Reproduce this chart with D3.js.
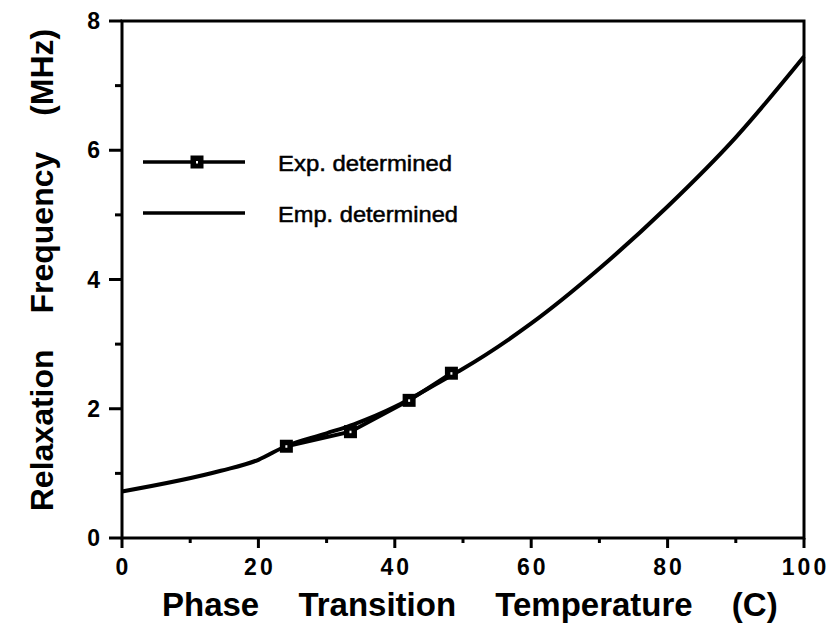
<!DOCTYPE html>
<html>
<head>
<meta charset="utf-8">
<script src="https://cdn.jsdelivr.net/npm/d3@7"></script>
<style>
  body { margin: 0; background: #fff; }
  svg { display: block; }
  text { font-family: "Liberation Sans", Arial, sans-serif; fill: #000; }
</style>
</head>
<body>
<svg id="chart" width="828" height="628"></svg>
<script>
// Data
const empTemp = [0, 14.5, 20, 24, 30, 34, 40, 42, 48, 50, 60, 70, 80, 90, 100];
const empFreq = [0.72, 1.04, 1.21, 1.42, 1.62, 1.76, 2.03, 2.14, 2.5, 2.62, 3.32, 4.17, 5.13, 6.2, 7.45];
const expTemp = [24.1, 33.5, 42.1, 48.3];
const expFreq = [1.42, 1.645, 2.13, 2.55];
const xTicks = [0, 20, 40, 60, 80, 100];
const yTicks = [0, 2, 4, 6, 8];
const seriesNames = ["Exp. determined", "Emp. determined"];

const svg = d3.select("#chart");
const x = d3.scaleLinear().domain([0, 100]).range([122, 804]);
const y = d3.scaleLinear().domain([0, 8]).range([538, 21]);

// ticks bottom
const minorX = d3.range(0, 101, 10);
svg.append("g").selectAll("line").data(minorX).join("line")
  .attr("x1", d => x(d)).attr("x2", d => x(d))
  .attr("y1", y(0)).attr("y2", d => y(0) + (d % 20 === 0 ? 10 : 5))
  .attr("stroke", "#000").attr("stroke-width", 3);
// ticks left
const minorY = d3.range(0, 9, 1);
svg.append("g").selectAll("line").data(minorY).join("line")
  .attr("y1", d => y(d)).attr("y2", d => y(d))
  .attr("x1", x(0)).attr("x2", d => x(0) - (d % 2 === 0 ? 13 : 7))
  .attr("stroke", "#000").attr("stroke-width", 3);

// frame
svg.append("rect")
  .attr("x", x(0)).attr("y", y(8))
  .attr("width", x(100) - x(0)).attr("height", y(0) - y(8))
  .attr("fill", "none").attr("stroke", "#000").attr("stroke-width", 3);

// tick labels
svg.append("g").selectAll("text").data(xTicks).join("text")
  .attr("x", d => x(d) + 1.5).attr("y", 575)
  .attr("text-anchor", "middle")
  .attr("font-size", 23).attr("font-weight", "bold")
  .attr("letter-spacing", 3)
  .text(d => d);
svg.append("g").selectAll("text").data(yTicks).join("text")
  .attr("x", 100).attr("y", d => y(d) + 8)
  .attr("text-anchor", "end")
  .attr("font-size", 23).attr("font-weight", "bold")
  .text(d => d);

// axis titles
svg.append("text")
  .attr("x", 162).attr("y", 616)
  .attr("font-size", 33).attr("font-weight", "bold")
  .attr("word-spacing", 30)
  .text("Phase Transition Temperature (C)");
svg.append("text")
  .attr("transform", "translate(53,270) rotate(-90)")
  .attr("text-anchor", "middle")
  .attr("font-size", 32).attr("font-weight", "bold")
  .attr("word-spacing", 27)
  .text("Relaxation Frequency (MHz)");

// lines
const empData = empTemp.map((t, i) => [t, empFreq[i]]);
const expData = expTemp.map((t, i) => [t, expFreq[i]]);
svg.append("path").datum(empData)
  .attr("d", d3.line().x(d => x(d[0])).y(d => y(d[1])).curve(d3.curveMonotoneX))
  .attr("fill", "none").attr("stroke", "#000").attr("stroke-width", 4)
  .attr("stroke-linejoin", "round");
svg.append("path").datum(expData)
  .attr("d", d3.line().x(d => x(d[0])).y(d => y(d[1])))
  .attr("fill", "none").attr("stroke", "#000").attr("stroke-width", 4);

function marker(g, cx, cy) {
  g.append("rect").attr("x", cx - 6.5).attr("y", cy - 6.5)
    .attr("width", 13).attr("height", 13).attr("fill", "#000");
  g.append("rect").attr("x", cx - 1).attr("y", cy - 1)
    .attr("width", 2).attr("height", 2.5).attr("fill", "#fff");
}
const mg = svg.append("g");
expData.forEach(d => marker(mg, x(d[0]), y(d[1])));

// legend
const leg = svg.append("g");
leg.append("line").attr("x1", 143).attr("x2", 245).attr("y1", 162).attr("y2", 162)
  .attr("stroke", "#000").attr("stroke-width", 3.5);
marker(leg, 197, 162);
leg.append("text").attr("x", 278).attr("y", 171).attr("font-size", 22)
  .attr("stroke", "#000").attr("stroke-width", 0.5)
  .attr("textLength", 174).attr("lengthAdjust", "spacingAndGlyphs").text(seriesNames[0]);
leg.append("line").attr("x1", 143).attr("x2", 245).attr("y1", 213).attr("y2", 213)
  .attr("stroke", "#000").attr("stroke-width", 3.5);
leg.append("text").attr("x", 278).attr("y", 222).attr("font-size", 22)
  .attr("stroke", "#000").attr("stroke-width", 0.5)
  .attr("textLength", 180).attr("lengthAdjust", "spacingAndGlyphs").text(seriesNames[1]);
</script>
</body>
</html>
